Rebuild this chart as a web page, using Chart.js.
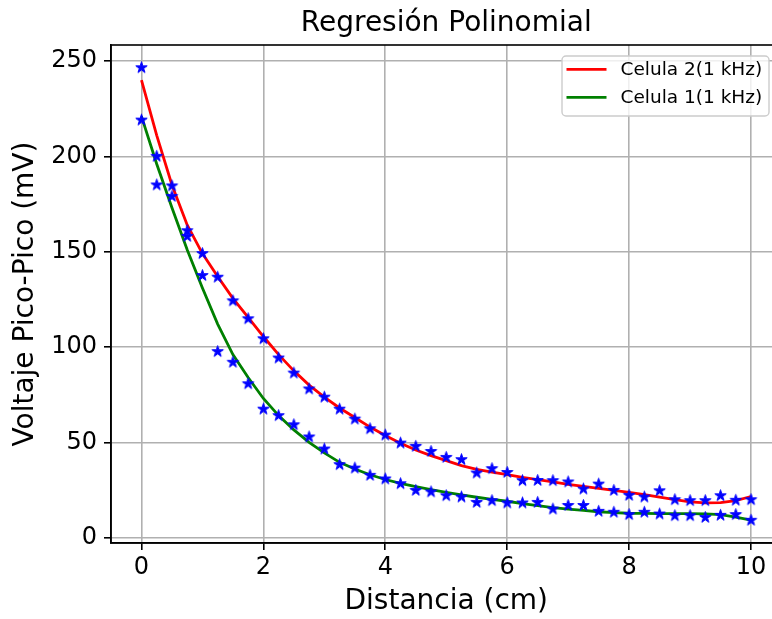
<!DOCTYPE html>
<html>
<head>
<meta charset="utf-8">
<title>Regresión Polinomial</title>
<script src="https://cdn.jsdelivr.net/npm/chart.js@4.4.0/dist/chart.umd.min.js"></script>
<style>
  html, body { margin: 0; padding: 0; background: #fff; overflow: hidden; }
  canvas { display: block; }
</style>
</head>
<body>
<canvas id="regresion" width="800" height="619"></canvas>
<script>
// distancia (cm)
const distancia = [0, 0.25, 0.5, 0.75, 1, 1.25, 1.5, 1.75, 2, 2.25, 2.5, 2.75, 3, 3.25, 3.5, 3.75,
  4, 4.25, 4.5, 4.75, 5, 5.25, 5.5, 5.75, 6, 6.25, 6.5, 6.75, 7, 7.25, 7.5, 7.75,
  8, 8.25, 8.5, 8.75, 9, 9.25, 9.5, 9.75, 10];

// mediciones (mV)
const medidaCelula2 = [246.5, 200, 184.5, 161, 149, 136.6, 124.2, 114.8, 104.3, 94.2,
  86.3, 78, 73.7, 67.4, 62.2, 57.1, 53.8, 49.6, 47.9, 45.2,
  42.1, 40.9, 33.9, 36.2, 34.2, 29.9, 30, 29.9, 29.2, 25.5,
  28.1, 24.8, 22.2, 21.3, 24.6, 19.9, 19.4, 19.4, 22, 19.6, 19.9];
const medidaCelula1 = [219, 185, 179, 158, 137.5, 97.6, 92, 80.7, 67.4, 64,
  59.2, 52.8, 46.5, 38.3, 36.5, 32.7, 30.8, 28.3, 24.8, 24,
  22, 21.3, 18.5, 19.4, 18.2, 18.2, 18.5, 15, 16.9, 16.9,
  13.8, 13.3, 12.1, 13.3, 12.4, 11.5, 11.5, 10.6, 11.7, 12.1, 9.1];

// curvas de la regresion
const ajusteCelula2 = [240, 211, 185, 164, 149, 137, 125.5, 115.5, 105.5, 96,
  87.5, 80, 73.7, 68, 63, 58, 53.6, 49.5, 46, 43,
  40.4, 37.8, 35.8, 34.4, 33.1, 31.6, 30.4, 29.2, 28, 26.9,
  25.8, 24.8, 23.8, 22.6, 21.2, 19.9, 18.8, 18.2, 18.4, 19.4, 21.6];
const ajusteCelula1 = [221, 196, 173, 151, 131, 112, 96, 84, 73, 64,
  56.5, 50, 44.5, 39.5, 36, 33, 30.5, 28.5, 26.8, 25.2,
  23.8, 22.4, 21.2, 20.1, 19.1, 17.9, 16.8, 15.8, 15, 14.3,
  13.6, 13.1, 12.8, 12.7, 12.6, 12.6, 12.6, 12.5, 12.1, 10.8, 9.2];

const marcasX = [0, 2, 4, 6, 8, 10];
const marcasY = [0, 50, 100, 150, 200, 250];
const etiquetas = ['Celula 2(1 kHz)', 'Celula 1(1 kHz)'];
const fuente = 'DejaVu Sans';

function puntos(ys) {
  return distancia.map((x, i) => ({ x: x, y: ys[i] }));
}

// estrella rellena, como el marcador '*' de matplotlib
function estrella(r, color) {
  const c = document.createElement('canvas');
  const size = Math.ceil(r * 2 + 3);
  c.width = size;
  c.height = size;
  const g = c.getContext('2d');
  g.translate(size / 2, size / 2);
  g.beginPath();
  for (let i = 0; i < 10; i++) {
    const rad = i % 2 === 0 ? r : r * 0.382;
    const a = -Math.PI / 2 + i * Math.PI / 5;
    g.lineTo(rad * Math.cos(a), rad * Math.sin(a));
  }
  g.closePath();
  g.fillStyle = color;
  g.fill();
  g.lineWidth = 1;
  g.strokeStyle = color;
  g.stroke();
  return c;
}
const marcador = estrella(6, '#0000ff');

// marco completo del area (arriba y derecha)
const marco = {
  id: 'marco',
  afterDatasetsDraw(chart) {
    const { ctx, chartArea: a } = chart;
    ctx.save();
    ctx.strokeStyle = '#000';
    ctx.lineWidth = 1.6;
    ctx.strokeRect(a.left, a.top, a.right - a.left, a.bottom - a.top);
    ctx.restore();
  }
};

// leyenda dentro del grafico, arriba a la derecha
const leyenda = {
  id: 'leyenda',
  afterDraw(chart) {
    const { ctx, chartArea: a } = chart;
    const items = chart.data.datasets.filter(d => d.enLeyenda);
    const w = 207, h = 60;
    const x = a.right - 12.5 - w;
    const y = a.top + 11;
    ctx.save();
    ctx.beginPath();
    ctx.roundRect(x, y, w, h, 4);
    ctx.fillStyle = 'rgba(255,255,255,0.8)';
    ctx.fill();
    ctx.strokeStyle = '#cccccc';
    ctx.lineWidth = 1.4;
    ctx.stroke();
    ctx.font = '18.5px "' + fuente + '"';
    ctx.textBaseline = 'middle';
    ctx.fillStyle = '#000';
    items.forEach((d, i) => {
      const yy = y + 13.3 + i * 28;
      ctx.beginPath();
      ctx.moveTo(x + 4.5, yy);
      ctx.lineTo(x + 44.5, yy);
      ctx.strokeStyle = d.borderColor;
      ctx.lineWidth = 2.8;
      ctx.stroke();
      ctx.fillText(d.label, x + 58.5, yy + 1);
    });
    ctx.restore();
  }
};

const ctx = document.getElementById('regresion').getContext('2d');
const grafico = new Chart(ctx, {
  type: 'scatter',
  data: {
    datasets: [
      {
        label: 'medida 2',
        data: puntos(medidaCelula2),
        pointStyle: marcador,
        pointRadius: 6,
        backgroundColor: '#0000ff',
        borderColor: '#0000ff',
        order: 0
      },
      {
        label: 'medida 1',
        data: puntos(medidaCelula1),
        pointStyle: marcador,
        pointRadius: 6,
        backgroundColor: '#0000ff',
        borderColor: '#0000ff',
        order: 0
      },
      {
        label: etiquetas[0],
        data: puntos(ajusteCelula2),
        showLine: true,
        pointRadius: 0,
        borderColor: '#ff0000',
        borderWidth: 2.8,
        tension: 0,
        enLeyenda: true,
        order: 1
      },
      {
        label: etiquetas[1],
        data: puntos(ajusteCelula1),
        showLine: true,
        pointRadius: 0,
        borderColor: '#008000',
        borderWidth: 2.8,
        tension: 0,
        enLeyenda: true,
        order: 1
      }
    ]
  },
  options: {
    responsive: false,
    animation: false,
    devicePixelRatio: 1,
    layout: { padding: { top: 0, right: 18.5, bottom: 0, left: 0 } },
    plugins: {
      legend: { display: false },
      tooltip: { enabled: false },
      title: {
        display: true,
        text: 'Regresión Polinomial',
        fullSize: false,
        color: '#000',
        font: { family: fuente, size: 28, weight: 'normal' },
        padding: { top: 7, bottom: 4.4 }
      }
    },
    scales: {
      x: {
        type: 'linear',
        min: -0.5,
        max: 10.5,
        bounds: 'data',
        afterBuildTicks: s => { s.ticks = marcasX.map(v => ({ value: v })); },
        afterFit: s => { s.height = 76; },
        ticks: {
          color: '#000',
          padding: 3,
          maxRotation: 0,
          font: { family: fuente, size: 24 }
        },
        grid: { color: '#b0b0b0', lineWidth: 1.6, tickLength: 7, tickColor: '#000', tickWidth: 1.6 },
        border: { color: '#000', width: 1.6 },
        title: {
          display: true,
          text: 'Distancia (cm)',
          color: '#000',
          font: { family: fuente, size: 28 },
          padding: { top: 0, bottom: 0 }
        }
      },
      y: {
        type: 'linear',
        min: -2.8,
        max: 258.4,
        bounds: 'data',
        afterBuildTicks: s => { s.ticks = marcasY.map(v => ({ value: v })); },
        afterFit: s => { s.width = 111; },
        ticks: {
          color: '#000',
          padding: 7,
          font: { family: fuente, size: 24 }
        },
        grid: { color: '#b0b0b0', lineWidth: 1.6, tickLength: 7, tickColor: '#000', tickWidth: 1.6 },
        border: { color: '#000', width: 1.6 },
        title: {
          display: true,
          text: 'Voltaje Pico-Pico (mV)',
          color: '#000',
          font: { family: fuente, size: 28 },
          padding: { top: 9, bottom: 0 }
        }
      }
    }
  },
  plugins: [marco, leyenda]
});
</script>
</body>
</html>
